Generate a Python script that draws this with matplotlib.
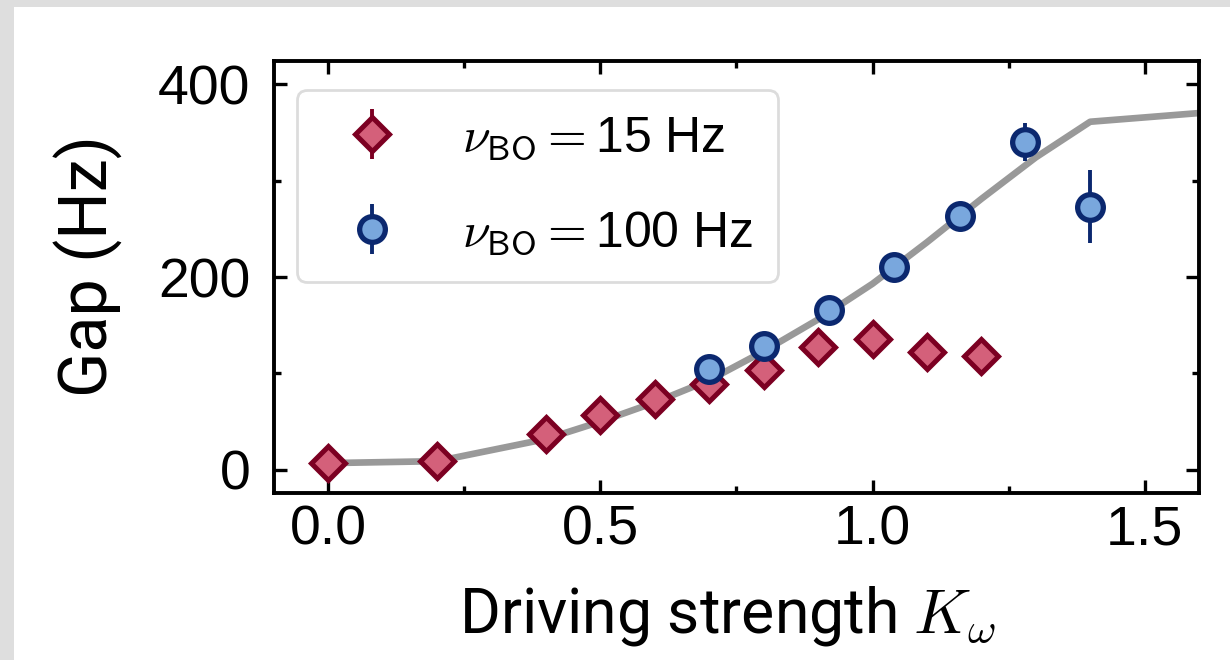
import matplotlib
matplotlib.use("Agg")
import matplotlib.pyplot as plt
from matplotlib.patches import Rectangle
from matplotlib.ticker import MultipleLocator

plt.rcParams['font.family'] = ['Liberation Sans', 'DejaVu Sans']
plt.rcParams['mathtext.fontset'] = 'cm'

# Gap measured at weak tilt (15 Hz Bloch oscillations)
k_15 = [0.0, 0.2, 0.4, 0.5, 0.6, 0.7, 0.8, 0.9, 1.0, 1.1, 1.2]
gap_15 = [7, 9, 37, 57, 74, 89, 104, 127, 136, 122, 118]
err_15 = [4, 4, 4, 4, 4, 4, 4, 4, 4, 4, 4]

# Gap measured at strong tilt (100 Hz Bloch oscillations)
k_100 = [0.70, 0.80, 0.92, 1.04, 1.16, 1.28, 1.40]
gap_100 = [105, 128, 166, 210, 263, 340, 273]
err_100 = [6, 6, 6, 6, 6, 20, 38]

# Theory curve
k_th = [0.0, 0.2, 0.4, 0.5, 0.6, 0.7, 0.8, 0.9, 1.0, 1.1, 1.2, 1.3, 1.4, 1.6]
gap_th = [7, 9, 32, 50, 70, 93, 123, 156, 193, 236, 281, 324, 361, 370]

red_face, red_edge = '#d4607a', '#7c0022'
blue_face, blue_edge = '#79a7dd', '#0b286f'
label_font = ['Roboto', 'DejaVu Sans']

fig = plt.figure(figsize=(12.3, 6.6), dpi=100)
fig.patch.set_facecolor('#dedede')
fig.add_artist(Rectangle((14 / 1230, 0), 1, (660 - 7) / 660,
                         transform=fig.transFigure, facecolor='white',
                         edgecolor='none', zorder=-10))

ax = fig.add_axes([274 / 1230, (660 - 493) / 660, 925 / 1230, 432 / 660])

ax.plot(k_th, gap_th, color='#999999', lw=4.8, zorder=1)
ax.errorbar(k_15, gap_15, yerr=err_15, fmt='D', ms=17.5, mew=3.6,
            mfc=red_face, mec=red_edge, ecolor=red_edge, elinewidth=2.8,
            capsize=0, zorder=2, label=r'$\nu_{\mathsf{BO}}=$15 Hz')
ax.errorbar(k_100, gap_100, yerr=err_100, fmt='o', ms=18.5, mew=3.8,
            mfc=blue_face, mec=blue_edge, ecolor=blue_edge, elinewidth=2.8,
            capsize=0, zorder=3, label=r'$\nu_{\mathsf{BO}}=$100 Hz')

ax.set_xlim(-0.1, 1.6)
ax.set_ylim(-24, 424)
ax.xaxis.set_major_locator(MultipleLocator(0.5))
ax.xaxis.set_minor_locator(MultipleLocator(0.25))
ax.yaxis.set_major_locator(MultipleLocator(200))
ax.yaxis.set_minor_locator(MultipleLocator(100))
ax.set_xticks([0.0, 0.5, 1.0, 1.5])
ax.set_xticklabels(['0.0', '0.5', '1.0', '1.5'])

for s in ax.spines.values():
    s.set_linewidth(2.8)
ax.tick_params(which='both', direction='in', top=True, right=True,
               width=2.4, labelsize=40)
ax.tick_params(which='major', length=9.4)
ax.tick_params(which='minor', length=4.8)
ax.tick_params(axis='x', pad=8)
ax.tick_params(axis='y', pad=17)

ax.set_xlabel(r'Driving strength $K_\omega$', family=label_font,
              fontsize=45)
ax.xaxis.label.set_va('baseline')
ax.xaxis.set_label_coords(0.49, -0.324)
ax.set_ylabel('Gap (Hz)', family=label_font, fontsize=48)
ax.yaxis.label.set_va('baseline')
ax.yaxis.set_label_coords(-0.1795, 0.525)

leg = ax.legend(loc='upper left', bbox_to_anchor=(0.0249, 0.9329),
                borderaxespad=0, fontsize=36, frameon=True, fancybox=True,
                labelspacing=0.95, borderpad=0.5)
leg.get_frame().set_edgecolor('#d4d4d4')
leg.get_frame().set_linewidth(2.0)

fig.savefig('out.png', dpi=100, facecolor=fig.get_facecolor())
